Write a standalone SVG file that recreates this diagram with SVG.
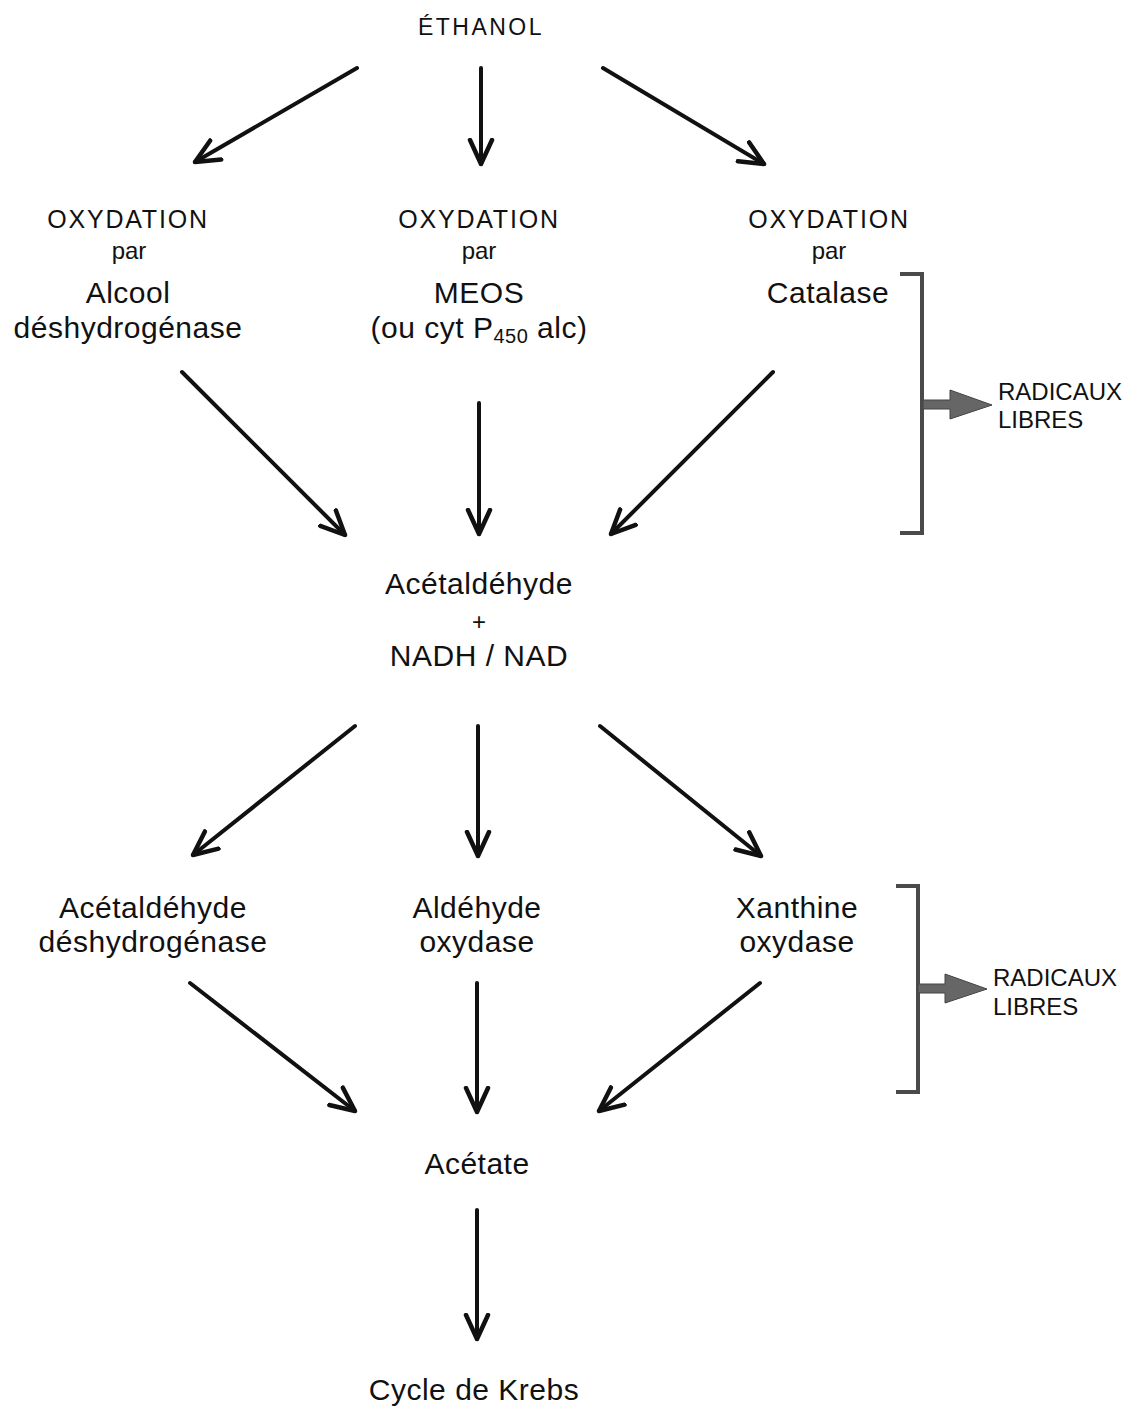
<svg xmlns="http://www.w3.org/2000/svg" width="1142" height="1409" viewBox="0 0 1142 1409">
<defs>
<style>
text{font-family:"Liberation Sans",Arial,sans-serif;fill:#111;text-anchor:middle}
.t{font-size:30px;letter-spacing:0.5px}
.o{font-size:25px;letter-spacing:1.8px}
.p{font-size:24px}
.r{font-size:24px;text-anchor:start}
.c line{stroke:#111;stroke-width:4;stroke-linecap:round;marker-end:url(#ah)}
.br{fill:none;stroke:#4a4a4a;stroke-width:4}
.ga{fill:#666;stroke:#444;stroke-width:1}
</style>
<marker id="ah" markerUnits="userSpaceOnUse" markerWidth="40" markerHeight="40" refX="26" refY="13" orient="auto" viewBox="0 0 40 26">
<path d="M2,2 L26,13 L2,24" fill="none" stroke="#111" stroke-width="4.5" stroke-linecap="round" stroke-linejoin="round"/>
</marker>
</defs>
<rect width="1142" height="1409" fill="#fff"/>
<g id="connectors" class="c">
<line x1="357" y1="68" x2="195" y2="162"/>
<line x1="481" y1="68" x2="481" y2="164"/>
<line x1="603" y1="68" x2="764" y2="164"/>
<line x1="182" y1="372" x2="345" y2="535"/>
<line x1="479" y1="403" x2="479" y2="534"/>
<line x1="773" y1="372" x2="611" y2="534"/>
<line x1="355" y1="726" x2="193" y2="855"/>
<line x1="478" y1="726" x2="478" y2="856"/>
<line x1="600" y1="726" x2="761" y2="856"/>
<line x1="190" y1="983" x2="355" y2="1111"/>
<line x1="477" y1="983" x2="477" y2="1112"/>
<line x1="760" y1="983" x2="599" y2="1111"/>
<line x1="477" y1="1210" x2="477" y2="1339"/>
</g>
<g id="ethanol"><text x="481" y="35" style="font-size:23px;letter-spacing:2.5px">ÉTHANOL</text></g>
<g id="adh">
<text class="o" x="128" y="228">OXYDATION</text>
<text class="p" x="129" y="259">par</text>
<text class="t" x="128" y="303">Alcool</text>
<text class="t" x="128" y="338">déshydrogénase</text>
</g>
<g id="meos">
<text class="o" x="479" y="228">OXYDATION</text>
<text class="p" x="479" y="259">par</text>
<text class="t" x="479" y="303">MEOS</text>
<text class="t" x="479" y="338">(ou cyt P<tspan font-size="20" dy="5">450</tspan><tspan dy="-5"> alc)</tspan></text>
</g>
<g id="catalase">
<text class="o" x="829" y="228">OXYDATION</text>
<text class="p" x="829" y="259">par</text>
<text class="t" x="828" y="303">Catalase</text>
</g>
<g id="radicaux1">
<path class="br" d="M900,274 H922 V533 H900"/>
<path class="ga" d="M923,400 H950 V390 L992,405 L950,419 V409 H923 Z"/>
<text class="r" x="998" y="400">RADICAUX</text>
<text class="r" x="998" y="428">LIBRES</text>
</g>
<g id="acetaldehyde">
<text class="t" x="479" y="594">Acétaldéhyde</text>
<text class="p" x="479" y="630">+</text>
<text class="t" x="479" y="666">NADH / NAD</text>
</g>
<g id="aldh">
<text class="t" x="153" y="918">Acétaldéhyde</text>
<text class="t" x="153" y="952">déshydrogénase</text>
</g>
<g id="ao">
<text class="t" x="477" y="918">Aldéhyde</text>
<text class="t" x="477" y="952">oxydase</text>
</g>
<g id="xo">
<text class="t" x="797" y="918">Xanthine</text>
<text class="t" x="797" y="952">oxydase</text>
</g>
<g id="radicaux2">
<path class="br" d="M896,886 H918 V1092 H896"/>
<path class="ga" d="M918,984 H945 V974 L987,989 L945,1003 V993 H918 Z"/>
<text class="r" x="993" y="986">RADICAUX</text>
<text class="r" x="993" y="1015">LIBRES</text>
</g>
<g id="acetate"><text class="t" x="477" y="1174">Acétate</text></g>
<g id="krebs"><text class="t" x="474" y="1400">Cycle de Krebs</text></g>
</svg>
